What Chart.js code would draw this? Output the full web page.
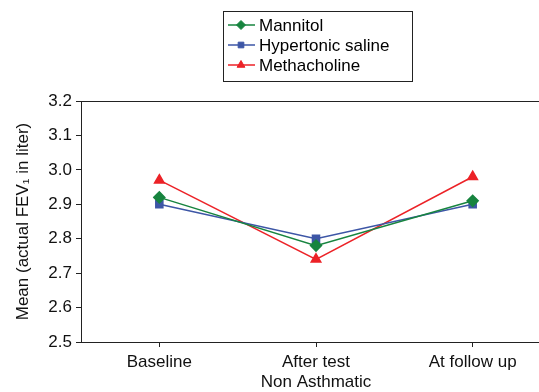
<!DOCTYPE html>
<html>
<head>
<meta charset="utf-8">
<script src="https://cdn.jsdelivr.net/npm/chart.js@4"></script>
<style>
  body { margin: 0; overflow: hidden; background: #fff; }
  #wrap { position: relative; width: 558px; height: 392px; }
</style>
</head>
<body>
<div id="wrap"><canvas id="fevChart"></canvas></div>
<script>
const categories = ["Baseline", "After test", "At follow up"];
const mannitol = [2.92, 2.78, 2.91];
const hypertonicSaline = [2.90, 2.80, 2.90];
const methacholine = [2.97, 2.74, 2.98];
const yTicks = [2.5, 2.6, 2.7, 2.8, 2.9, 3.0, 3.1, 3.2];

const FONT = '"Liberation Sans", Arial, sans-serif';

// boxed legend drawn above the plot, one row per series
const boxedLegend = {
    id: "boxedLegend",
    afterDraw(chart) {
        const ctx = chart.ctx;
        ctx.save();
        ctx.strokeStyle = "#222";
        ctx.lineWidth = 1;
        ctx.strokeRect(223.5, 11.5, 189, 70);
        chart.data.datasets.forEach((ds, i) => {
            const y = 25 + i * 20;
            ctx.strokeStyle = ds.borderColor;
            ctx.lineWidth = 1.5;
            ctx.beginPath();
            ctx.moveTo(228, y);
            ctx.lineTo(255, y);
            ctx.stroke();
            ctx.fillStyle = ds.backgroundColor;
            ctx.lineWidth = 1;
            Chart.helpers.drawPoint(ctx, { pointStyle: ds.pointStyle, radius: ds.pointRadius - 1, borderWidth: 1 }, 241, y);
            ctx.fillStyle = "#000";
            ctx.font = "17px " + FONT;
            ctx.textBaseline = "middle";
            ctx.fillText(ds.label, 259, y + 1);
        });
        ctx.restore();
    }
};

// top edge of the plot frame
const frameTop = {
    id: "frameTop",
    afterDatasetsDraw(chart) {
        const { ctx, chartArea } = chart;
        ctx.save();
        ctx.strokeStyle = "#222";
        ctx.lineWidth = 1;
        ctx.beginPath();
        ctx.moveTo(chartArea.left, Math.round(chartArea.top) + 0.5);
        ctx.lineTo(chartArea.right, Math.round(chartArea.top) + 0.5);
        ctx.stroke();
        ctx.restore();
    }
};

new Chart(document.getElementById("fevChart"), {
    type: "line",
    data: {
        labels: categories,
        datasets: [
            {
                label: "Mannitol",
                data: mannitol,
                borderColor: "#17843f",
                backgroundColor: "#17843f",
                pointStyle: "rectRot",
                pointRadius: 5.5,
                borderWidth: 1.5,
            },
            {
                label: "Hypertonic saline",
                data: hypertonicSaline,
                borderColor: "#3d56a6",
                backgroundColor: "#3d56a6",
                pointStyle: "rect",
                pointRadius: 5,
                borderWidth: 1.5,
            },
            {
                label: "Methacholine",
                data: methacholine,
                borderColor: "#ec2227",
                backgroundColor: "#ec2227",
                pointStyle: "triangle",
                pointRadius: 5.5,
                borderWidth: 1.5,
            },
        ],
    },
    options: {
        responsive: true,
        maintainAspectRatio: false,
        animation: false,
        layout: { padding: { top: 101, bottom: 1, right: 0 } },
        plugins: {
            legend: { display: false },
            tooltip: { enabled: false },
        },
        scales: {
            x: {
                offset: true,
                grid: { drawOnChartArea: false, drawTicks: true, tickLength: 5, color: "#222" },
                border: { display: true, color: "#222", width: 1 },
                ticks: { color: "#111", font: { family: FONT, size: 17, lineHeight: 1 }, padding: 7, maxRotation: 0 },
                title: {
                    display: true,
                    text: "Non Asthmatic",
                    color: "#111",
                    font: { family: FONT, size: 17, lineHeight: 1 },
                    padding: { top: -4, bottom: 0 },
                },
            },
            y: {
                min: 2.5,
                max: 3.2,
                afterBuildTicks(scale) {
                    scale.ticks = yTicks.map(v => ({ value: v }));
                },
                afterFit(scale) {
                    scale.width = 81;
                },
                grid: { drawOnChartArea: false, drawTicks: true, tickLength: 5, color: "#222" },
                border: { display: true, color: "#222", width: 1 },
                ticks: {
                    color: "#111",
                    font: { family: FONT, size: 17 },
                    padding: 4,
                    callback: v => Number(v).toFixed(1),
                },
                title: {
                    display: true,
                    text: "Mean (actual FEV\u2081 in liter)",
                    color: "#111",
                    font: { family: FONT, size: 17 },
                    padding: { top: 13, bottom: 0 },
                },
            },
        },
    },
    plugins: [boxedLegend, frameTop],
});
</script>
</body>
</html>
